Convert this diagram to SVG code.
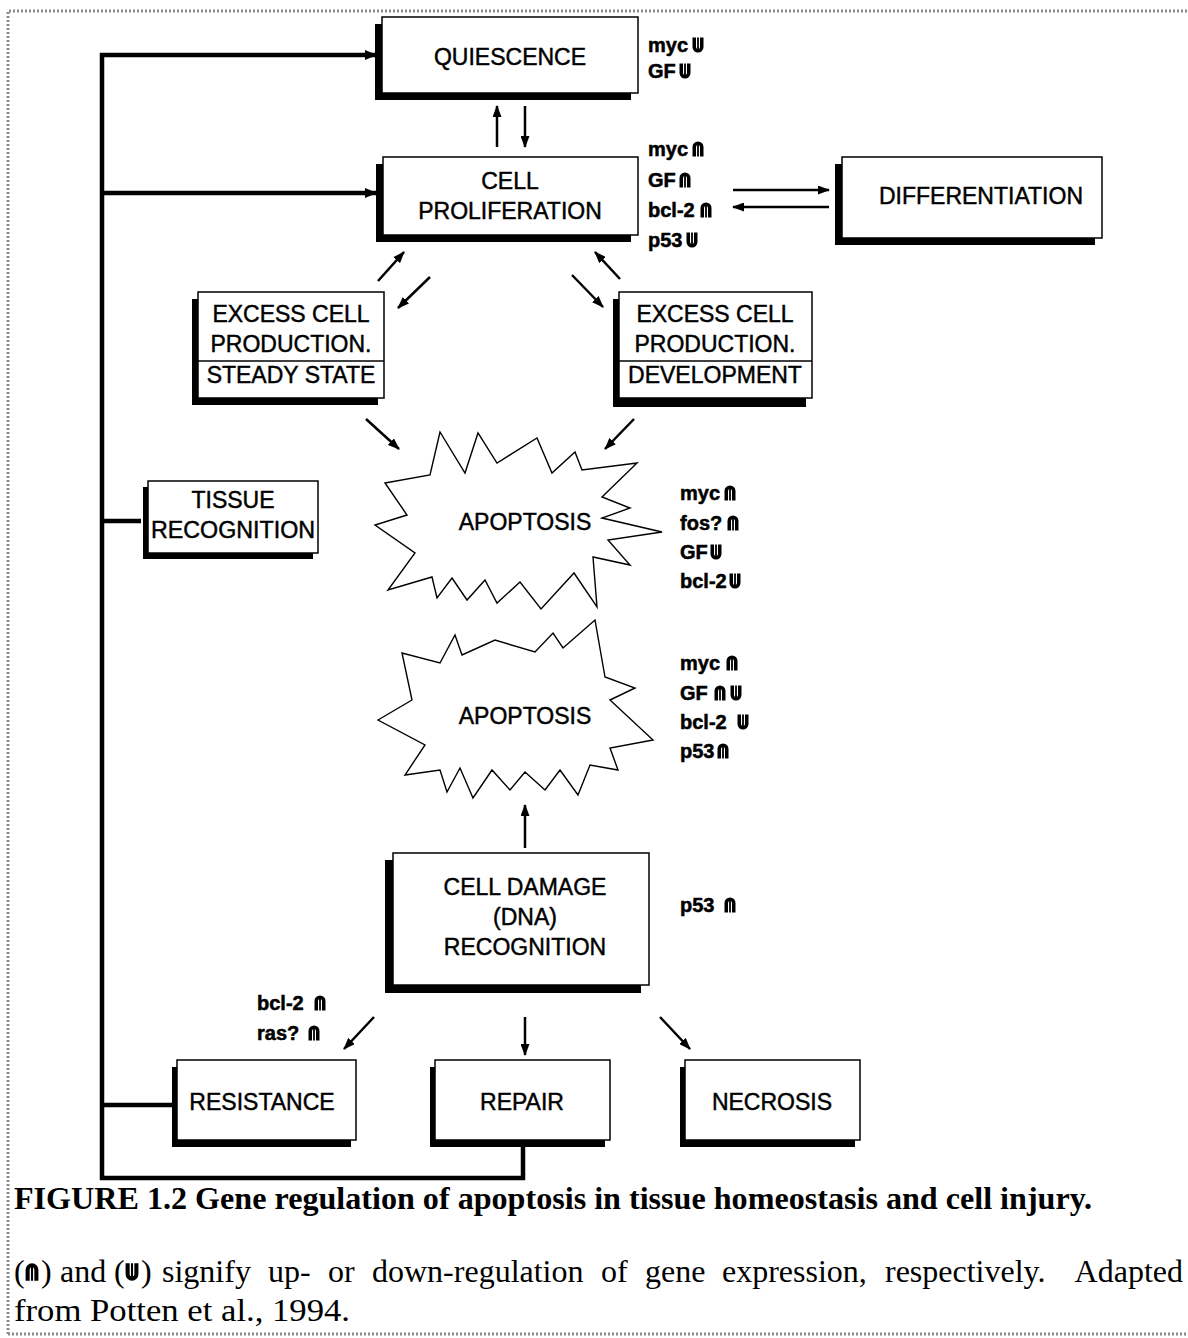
<svg xmlns="http://www.w3.org/2000/svg" xmlns:xlink="http://www.w3.org/1999/xlink" width="1188" height="1338" viewBox="0 0 1188 1338">
<style>
.box{fill:#fff;stroke:#000;stroke-width:1.5}
.sh{fill:#000}
.t{font-family:"Liberation Sans",Arial,sans-serif;font-size:23px;fill:#000;stroke:#000;stroke-width:0.45;text-anchor:middle}
.lab{font-family:"Liberation Sans",Arial,sans-serif;font-size:20px;font-weight:bold;fill:#000;stroke:#000;stroke-width:0.5}
.cap{font-family:"Liberation Serif","Times New Roman",serif;font-size:32px;fill:#000}
.capb{font-family:"Liberation Serif","Times New Roman",serif;font-size:32px;font-weight:bold;fill:#000}
.thick{fill:none;stroke:#000;stroke-width:4.5}
.thin{fill:none;stroke:#000;stroke-width:2.5}
.star{fill:#fff;stroke:#000;stroke-width:1.4;stroke-linejoin:miter}
.border{fill:none;stroke:#8a8a8a;stroke-width:3;stroke-dasharray:2 2}
</style>
<defs>
<marker id="ah" viewBox="0 0 12 9" refX="11" refY="4.5" markerWidth="12" markerHeight="9" markerUnits="userSpaceOnUse" orient="auto">
<path d="M0,0 L12,4.5 L0,9 z" fill="#000"/>
</marker>
<marker id="ahb" viewBox="0 0 12 10" refX="11" refY="5" markerWidth="12" markerHeight="10" markerUnits="userSpaceOnUse" orient="auto">
<path d="M0,0 L12,5 L0,10 z" fill="#000"/>
</marker>
<symbol id="up" viewBox="0 0 12 16">
<path d="M0.5,15.5 V6 A5.5,5.5 0 0 1 11.5,6 V15.5 H8 V6 A2,2 0 0 0 4,6 V15.5 Z" fill="#000"/>
<rect x="5.1" y="3.5" width="1.8" height="12" fill="#000"/>
</symbol>
<symbol id="dn" viewBox="0 0 12 16">
<g transform="translate(0,16) scale(1,-1)">
<path d="M0.5,15.5 V6 A5.5,5.5 0 0 1 11.5,6 V15.5 H8 V6 A2,2 0 0 0 4,6 V15.5 Z" fill="#000"/>
<rect x="5.1" y="3.5" width="1.8" height="12" fill="#000"/>
</g>
</symbol>
</defs>
<rect width="1188" height="1338" fill="#fff"/>
<path class="border" d="M8,1334 V11 H1188 M8,1334 H1188"/>

<g id="connectors">
<path class="thick" d="M523,1147 V1178 H102 V55 H376" marker-end="url(#ahb)"/>
<path class="thick" d="M102,193 H376" marker-end="url(#ahb)"/>
<path class="thick" d="M102,521 H141"/>
<path class="thick" d="M102,1105 H172"/>
<path class="thin" d="M497,147 L497,106" marker-end="url(#ah)"/>
<path class="thin" d="M525,106 L525,147" marker-end="url(#ah)"/>
<path class="thin" d="M733,190 L829,190" marker-end="url(#ah)"/>
<path class="thin" d="M829,207 L733,207" marker-end="url(#ah)"/>
<path class="thin" d="M378,281 L404,252" marker-end="url(#ah)"/>
<path class="thin" d="M430,277 L398,308" marker-end="url(#ah)"/>
<path class="thin" d="M572,275 L603,307" marker-end="url(#ah)"/>
<path class="thin" d="M620,279 L595,252" marker-end="url(#ah)"/>
<path class="thin" d="M366,419 L399,449" marker-end="url(#ah)"/>
<path class="thin" d="M634,419 L605,449" marker-end="url(#ah)"/>
<path class="thin" d="M525,848 L525,805" marker-end="url(#ah)"/>
<path class="thin" d="M374,1017 L344,1049" marker-end="url(#ah)"/>
<path class="thin" d="M525,1017 L525,1055" marker-end="url(#ah)"/>
<path class="thin" d="M660,1017 L690,1049" marker-end="url(#ah)"/>
</g>

<g id="quiescence">
<rect class="sh" x="375" y="24" width="256" height="76"/>
<rect class="box" x="382" y="17" width="256" height="76"/>
<text class="t" x="510" y="65">QUIESCENCE</text>
<text class="lab" x="648" y="52">myc</text><use href="#dn" x="692" y="37" width="12" height="16"/>
<text class="lab" x="648" y="78">GF</text><use href="#dn" x="679" y="63" width="12" height="16"/>
</g>

<g id="cell-proliferation">
<rect class="sh" x="376" y="164" width="255" height="78"/>
<rect class="box" x="383" y="157" width="255" height="78"/>
<text class="t" x="510" y="189">CELL</text>
<text class="t" x="510" y="219">PROLIFERATION</text>
<text class="lab" x="648" y="156">myc</text><use href="#up" x="692" y="141" width="12" height="16"/>
<text class="lab" x="648" y="187">GF</text><use href="#up" x="679" y="172" width="12" height="16"/>
<text class="lab" x="648" y="217">bcl-2</text><use href="#up" x="700" y="202" width="12" height="16"/>
<text class="lab" x="648" y="247">p53</text><use href="#dn" x="686" y="232" width="12" height="16"/>
</g>

<g id="differentiation">
<rect class="sh" x="835" y="164" width="260" height="81"/>
<rect class="box" x="842" y="157" width="260" height="81"/>
<text class="t" x="981" y="204">DIFFERENTIATION</text>
</g>

<g id="excess-steady">
<rect class="sh" x="192" y="299" width="186" height="106"/>
<rect class="box" x="198" y="292" width="186" height="106"/>
<line x1="198" y1="361" x2="384" y2="361" stroke="#000" stroke-width="1.5"/>
<text class="t" x="291" y="322">EXCESS CELL</text>
<text class="t" x="291" y="352">PRODUCTION.</text>
<text class="t" x="291" y="383">STEADY STATE</text>
</g>

<g id="excess-development">
<rect class="sh" x="613" y="299" width="193" height="108"/>
<rect class="box" x="619" y="292" width="193" height="106"/>
<line x1="619" y1="361" x2="812" y2="361" stroke="#000" stroke-width="1.5"/>
<text class="t" x="715" y="322">EXCESS CELL</text>
<text class="t" x="715" y="352">PRODUCTION.</text>
<text class="t" x="715" y="383">DEVELOPMENT</text>
</g>

<g id="apoptosis-1">
<polygon class="star" points="385,483 430,475 440,432 465,473 478,433 497,463 537,438 552,473 575,452 582,470 637,463 602,497 630,508 602,518 662,532 608,540 630,565 593,557 597,607 574,573 541,609 520,582 497,603 485,580 467,600 452,578 437,598 432,577 388,590 415,553 375,525 407,515"/>
<text class="t" x="525" y="530">APOPTOSIS</text>
<text class="lab" x="680" y="500">myc</text><use href="#up" x="724" y="485" width="12" height="16"/>
<text class="lab" x="680" y="530">fos?</text><use href="#up" x="727" y="515" width="12" height="16"/>
<text class="lab" x="680" y="559">GF</text><use href="#dn" x="710" y="544" width="12" height="16"/>
<text class="lab" x="680" y="588">bcl-2</text><use href="#dn" x="729" y="573" width="12" height="16"/>
</g>

<g id="apoptosis-2">
<polygon class="star" points="378,720 412,700 402,653 440,663 455,635 462,655 495,640 535,652 553,633 563,648 595,620 605,677 635,688 610,700 653,740 610,748 618,770 590,765 578,795 560,770 545,790 525,772 510,790 492,770 473,798 460,768 447,792 440,770 405,775 425,745"/>
<text class="t" x="525" y="724">APOPTOSIS</text>
<text class="lab" x="680" y="670">myc</text><use href="#up" x="726" y="655" width="12" height="16"/>
<text class="lab" x="680" y="700">GF</text><use href="#up" x="714" y="685" width="12" height="16"/><use href="#dn" x="730" y="685" width="12" height="16"/>
<text class="lab" x="680" y="729">bcl-2</text><use href="#dn" x="737" y="714" width="12" height="16"/>
<text class="lab" x="680" y="758">p53</text><use href="#up" x="717" y="743" width="12" height="16"/>
</g>

<g id="tissue-recognition">
<rect class="sh" x="143" y="487" width="170" height="72"/>
<rect class="box" x="148" y="481" width="170" height="72"/>
<text class="t" x="233" y="508">TISSUE</text>
<text class="t" x="233" y="538" textLength="164" lengthAdjust="spacingAndGlyphs">RECOGNITION</text>
</g>

<g id="cell-damage">
<rect class="sh" x="385" y="860" width="256" height="133"/>
<rect class="box" x="393" y="853" width="256" height="132"/>
<text class="t" x="525" y="895">CELL DAMAGE</text>
<text class="t" x="525" y="925">(DNA)</text>
<text class="t" x="525" y="955">RECOGNITION</text>
<text class="lab" x="680" y="912">p53</text><use href="#up" x="724" y="897" width="12" height="16"/>
</g>

<g id="resistance">
<rect class="sh" x="172" y="1067" width="179" height="80"/>
<rect class="box" x="177" y="1060" width="179" height="80"/>
<text class="t" x="262" y="1110">RESISTANCE</text>
<text class="lab" x="257" y="1010">bcl-2</text><use href="#up" x="314" y="995" width="12" height="16"/>
<text class="lab" x="257" y="1040">ras?</text><use href="#up" x="308" y="1025" width="12" height="16"/>
</g>

<g id="repair">
<rect class="sh" x="430" y="1067" width="175" height="80"/>
<rect class="box" x="435" y="1060" width="175" height="80"/>
<text class="t" x="522" y="1110">REPAIR</text>
</g>

<g id="necrosis">
<rect class="sh" x="680" y="1067" width="175" height="80"/>
<rect class="box" x="685" y="1060" width="175" height="80"/>
<text class="t" x="772" y="1110">NECROSIS</text>
</g>

<g id="caption">
<text class="capb" x="14" y="1209" textLength="1078" lengthAdjust="spacingAndGlyphs">FIGURE 1.2  Gene regulation of apoptosis in tissue homeostasis and cell injury.</text>
<text class="cap" x="14" y="1282">(</text>
<use href="#up" x="25" y="1262" width="14" height="20"/>
<text class="cap" x="41" y="1282">)</text>
<text class="cap" x="60" y="1282">and</text>
<text class="cap" x="114" y="1282">(</text>
<use href="#dn" x="125" y="1262" width="14" height="20"/>
<text class="cap" x="141" y="1282">)</text>
<text class="cap" x="162" y="1282">signify</text>
<text class="cap" x="268" y="1282">up-</text>
<text class="cap" x="328" y="1282">or</text>
<text class="cap" x="372" y="1282">down-regulation</text>
<text class="cap" x="601" y="1282">of</text>
<text class="cap" x="645" y="1282">gene</text>
<text class="cap" x="722" y="1282">expression,</text>
<text class="cap" x="885" y="1282">respectively.</text>
<text class="cap" x="1183" y="1282" text-anchor="end">Adapted</text>
<text class="cap" x="14" y="1321" textLength="336" lengthAdjust="spacingAndGlyphs">from Potten et al., 1994.</text>
</g>
</svg>
